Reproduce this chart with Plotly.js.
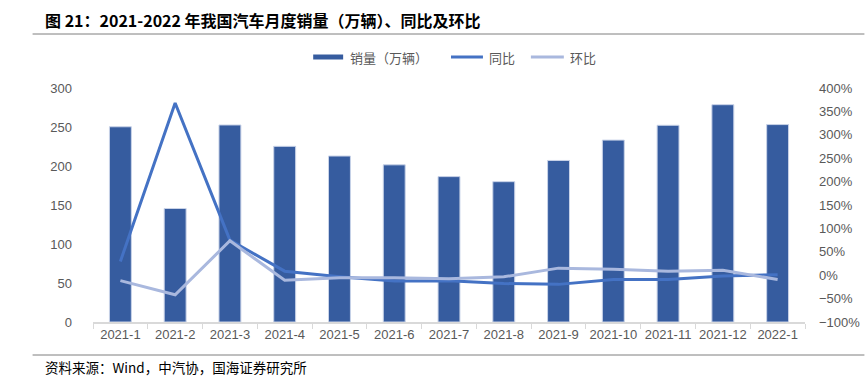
<!DOCTYPE html>
<html>
<head>
<meta charset="utf-8">
<script src="https://cdn.plot.ly/plotly-3.0.1.min.js"></script>
<style>html,body{margin:0;padding:0;background:#fff;}#chart{width:865px;height:384px;}</style>
</head>
<body>
<div id="chart"></div>
<script>
const months = ["2021-1","2021-2","2021-3","2021-4","2021-5","2021-6","2021-7","2021-8","2021-9","2021-10","2021-11","2021-12","2022-1"];
const sales = [250.3,145.5,252.6,225.2,212.8,201.5,186.4,179.9,207.1,233.2,252.2,278.6,253.1];
const yoy = [29.5,368,74.9,8.6,-3.1,-12.4,-11.9,-17.8,-19.6,-9.4,-9.1,-1.6,0.9];
const mom = [-11.6,-41.9,73.6,-10.9,-5.5,-5.3,-7.5,-3.5,15.1,12.6,8.2,10.5,-9.2];
const leftTicks = [0,50,100,150,200,250,300];
const rightTicks = [-100,-50,0,50,100,150,200,250,300,350,400];
const seriesNames = ["销量（万辆）", "同比", "环比"];
const seriesColors = ["#365C9F", "#4472C4", "#A9B8DE"];

const tickFont = {family: "Liberation Sans, Arial, sans-serif", size: 13, color: "#595959"};
const cjk = "Noto Sans CJK SC, sans-serif";

const L = 92.5, T = 88, W = 713, H = 234;
const px = x => (x - L) / W;
const py = y => (T + H - y) / H;

const traces = [
  {type: "bar", name: seriesNames[0], x: months, y: sales,
   marker: {color: seriesColors[0], line: {color: "#C9D3E8", width: 1}}, yaxis: "y"},
  {type: "scatter", mode: "lines", name: seriesNames[1], x: months, y: yoy,
   line: {color: seriesColors[1], width: 3}, yaxis: "y2"},
  {type: "scatter", mode: "lines", name: seriesNames[2], x: months, y: mom,
   line: {color: seriesColors[2], width: 3}, yaxis: "y2"}
];

const legFont = {family: cjk, size: 13, color: "#595959"};

const layout = {
  width: 865, height: 384,
  margin: {l: L, r: 865 - L - W, t: T, b: 384 - T - H},
  paper_bgcolor: "#fff", plot_bgcolor: "#fff",
  showlegend: false,
  bargap: 0.6,
  xaxis: {type: "category", tickfont: tickFont, tickangle: 0, showgrid: false, zeroline: false,
          showline: true, linecolor: "#D9D9D9", linewidth: 1.5,
          ticks: "outside", tickson: "boundaries", tickcolor: "#D9D9D9", ticklen: 5},
  yaxis: {range: [0, 300], tickvals: leftTicks, tickfont: tickFont, showgrid: false,
          zeroline: false, showline: false, ticks: "", ticklabelstandoff: 20},
  yaxis2: {overlaying: "y", side: "right", range: [-100, 400], tickvals: rightTicks,
           ticktext: rightTicks.map(v => (v < 0 ? "\u2212" + Math.abs(v) : v) + "%"),
           tickfont: tickFont, showgrid: false, zeroline: false, showline: false, ticks: "",
           ticklabelstandoff: 13},
  annotations: [
    {text: "<b>图 21：2021-2022 年我国汽车月度销量（万辆）、同比及环比</b>", xref: "paper", yref: "paper",
     x: px(42), y: py(20), xanchor: "left", yanchor: "middle", showarrow: false,
     font: {family: cjk, size: 16, color: "#000"}},
    {text: "资料来源：Wind，中汽协，国海证券研究所", xref: "paper", yref: "paper",
     x: px(42), y: py(367), xanchor: "left", yanchor: "middle", showarrow: false,
     font: {family: cjk, size: 13.5, color: "#000"}},
    {text: seriesNames[0], xref: "paper", yref: "paper", x: px(348), y: py(57),
     xanchor: "left", yanchor: "middle", showarrow: false, font: legFont},
    {text: seriesNames[1], xref: "paper", yref: "paper", x: px(487), y: py(57),
     xanchor: "left", yanchor: "middle", showarrow: false, font: legFont},
    {text: seriesNames[2], xref: "paper", yref: "paper", x: px(568), y: py(57),
     xanchor: "left", yanchor: "middle", showarrow: false, font: legFont}
  ],
  shapes: [
    {type: "line", xref: "paper", yref: "paper", x0: px(32), x1: px(865),
     y0: py(34), y1: py(34), line: {color: "#7F7F7F", width: 1}},
    {type: "line", xref: "paper", yref: "paper", x0: px(32), x1: px(865),
     y0: py(355), y1: py(355), line: {color: "#7F7F7F", width: 1}},
    {type: "rect", xref: "paper", yref: "paper", x0: px(313), x1: px(343),
     y0: py(54.5), y1: py(59.5), fillcolor: seriesColors[0], line: {width: 0}},
    {type: "line", xref: "paper", yref: "paper", x0: px(451), x1: px(483),
     y0: py(57), y1: py(57), line: {color: seriesColors[1], width: 3}},
    {type: "line", xref: "paper", yref: "paper", x0: px(531), x1: px(564),
     y0: py(57), y1: py(57), line: {color: seriesColors[2], width: 3}}
  ]
};

Plotly.newPlot("chart", traces, layout, {displayModeBar: false, staticPlot: true});
</script>
</body>
</html>
